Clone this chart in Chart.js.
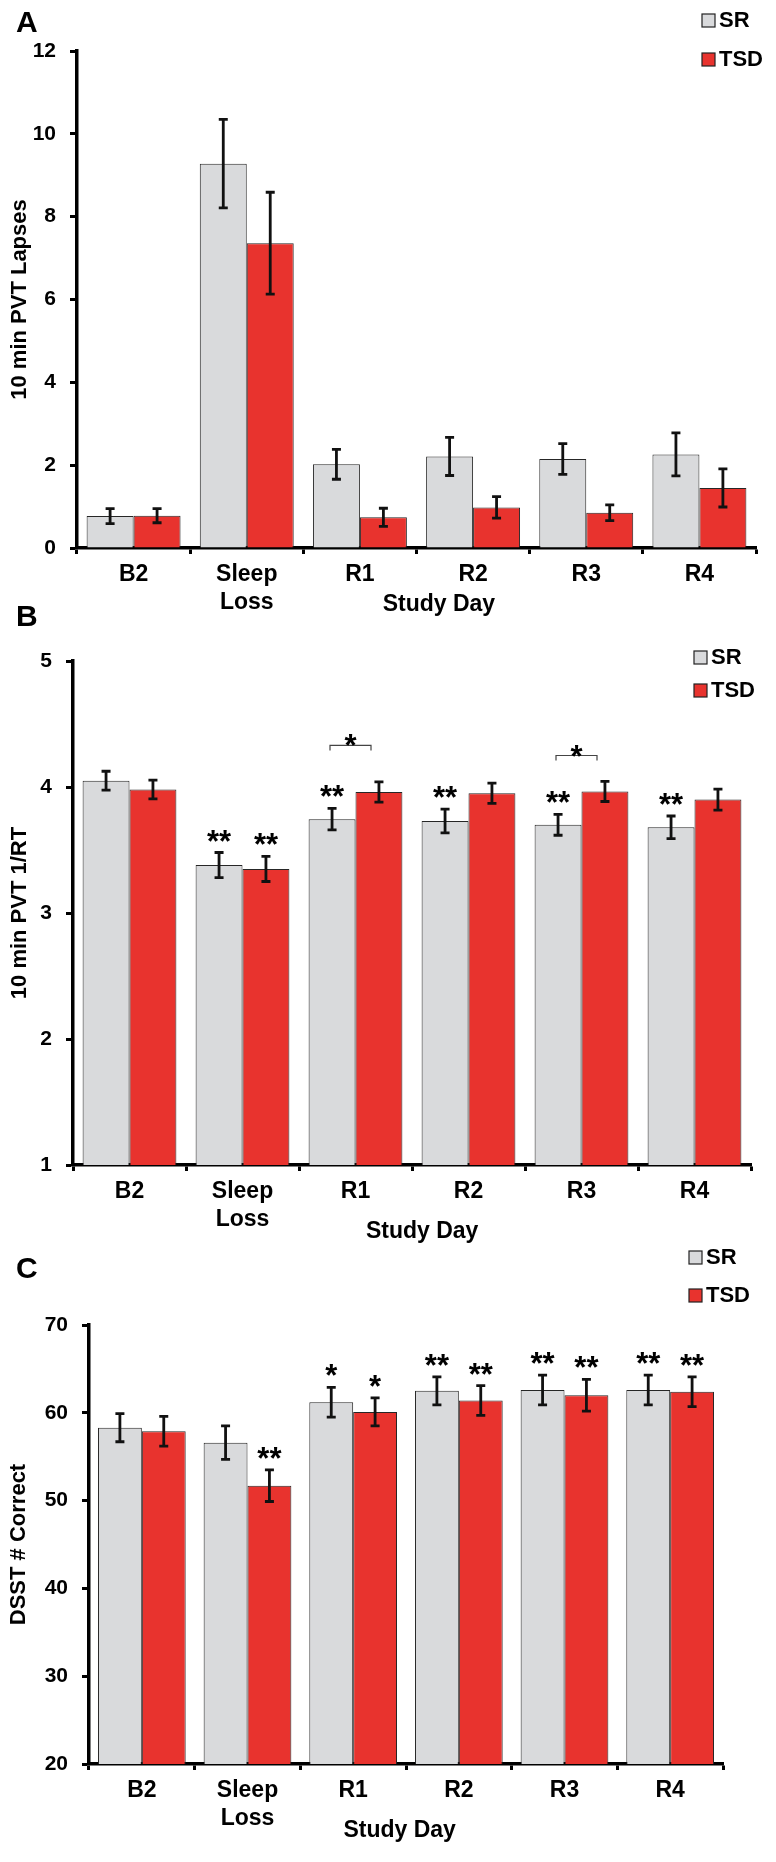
<!DOCTYPE html>
<html>
<head>
<meta charset="utf-8">
<script src="https://cdn.jsdelivr.net/npm/chart.js@4"></script>
<style>
  body { margin: 0; background: #fff; }
  .wrap { position: relative; width: 776px; height: 1862px; }
  canvas { position: absolute; left: 0; }
</style>
</head>
<body>
<div class="wrap">
  <canvas id="chartA" width="776" height="620" style="top:0px"></canvas>
  <canvas id="chartB" width="776" height="660" style="top:600px"></canvas>
  <canvas id="chartC" width="776" height="622" style="top:1240px"></canvas>
</div>
<script>
const categories = ['B2', ['Sleep', 'Loss'], 'R1', 'R2', 'R3', 'R4'];
const groups = ['SR', 'TSD'];
const colors = ['#d9dadc', '#e8332e'];

// panel A - PVT lapses
const lapsesSR = [0.77, 9.28, 2.02, 2.21, 2.15, 2.26];
const lapsesTSD = [0.78, 7.36, 0.74, 0.98, 0.85, 1.45];
const lapsesSRErr = [0.18, 1.07, 0.36, 0.46, 0.37, 0.52];
const lapsesTSDErr = [0.17, 1.23, 0.22, 0.26, 0.19, 0.46];
const lapsesTicks = [0, 2, 4, 6, 8, 10, 12];

// panel B - PVT 1/RT
const rtSR = [4.05, 3.38, 3.745, 3.73, 3.70, 3.68];
const rtTSD = [3.98, 3.35, 3.96, 3.95, 3.965, 3.90];
const rtSRErr = [0.075, 0.10, 0.086, 0.094, 0.083, 0.09];
const rtTSDErr = [0.075, 0.10, 0.08, 0.08, 0.08, 0.083];
const rtSRStars = ['', '**', '**', '**', '**', '**'];
const rtTSDStars = ['', '**', '', '', '', ''];
const rtBrackets = [{ index: 2, y: 4.33 }, { index: 4, y: 4.25 }];
const rtTicks = [1, 2, 3, 4, 5];

// panel C - DSST
const dsstSR = [58.3, 56.6, 61.2, 62.5, 62.6, 62.6];
const dsstTSD = [57.9, 51.7, 60.1, 61.4, 62.0, 62.4];
const dsstSRErr = [1.6, 1.9, 1.7, 1.6, 1.7, 1.7];
const dsstTSDErr = [1.7, 1.8, 1.6, 1.7, 1.8, 1.7];
const dsstSRStars = ['', '', '*', '**', '**', '**'];
const dsstTSDStars = ['', '**', '*', '**', '**', '**'];
const dsstTicks = [20, 30, 40, 50, 60, 70];

const FONT = '"Liberation Sans", Arial, sans-serif';
Chart.defaults.font.family = FONT;
Chart.defaults.font.weight = 'bold';
Chart.defaults.color = '#000';

// error bars, stars, brackets, legend, panel letter, x title
const extras = {
  id: 'extras',
  afterDatasetsDraw(chart, args, opts) {
    const ctx = chart.ctx;
    const ys = chart.scales.y, xs = chart.scales.x;
    const area = chart.chartArea;
    ctx.save();
    chart.data.datasets.forEach((ds, i) => {
      chart.getDatasetMeta(i).data.forEach((bar, j) => {
        const v = ds.data[j], e = ds.errors[j];
        const top = ys.getPixelForValue(v + e), bot = ys.getPixelForValue(v - e);
        ctx.strokeStyle = '#111';
        ctx.lineWidth = 2.8;
        ctx.beginPath();
        ctx.moveTo(bar.x, top); ctx.lineTo(bar.x, bot);
        ctx.moveTo(bar.x - 4.5, top); ctx.lineTo(bar.x + 4.5, top);
        ctx.moveTo(bar.x - 4.5, bot); ctx.lineTo(bar.x + 4.5, bot);
        ctx.stroke();
        const s = ds.stars ? ds.stars[j] : '';
        if (s) {
          ctx.fillStyle = '#000';
          ctx.font = 'bold 31px ' + FONT;
          ctx.textAlign = 'center';
          ctx.textBaseline = 'alphabetic';
          ctx.fillText(s, bar.x, top - 1);
        }
      });
    });
    (opts.brackets || []).forEach(b => {
      const cx = xs.getPixelForValue(b.index) - 5;
      const y = ys.getPixelForValue(b.y);
      ctx.strokeStyle = '#444';
      ctx.lineWidth = 1.2;
      ctx.beginPath();
      ctx.moveTo(cx - 20.5, y + 5); ctx.lineTo(cx - 20.5, y);
      ctx.lineTo(cx + 20.5, y); ctx.lineTo(cx + 20.5, y + 5);
      ctx.stroke();
      ctx.fillStyle = '#000';
      ctx.font = 'bold 31px ' + FONT;
      ctx.textAlign = 'center';
      ctx.textBaseline = 'alphabetic';
      ctx.fillText('*', cx, y + 11);
    });
    // legend
    const lg = opts.legend;
    chart.data.datasets.forEach((ds, i) => {
      const by = lg.y + i * lg.gap;
      ctx.fillStyle = ds.backgroundColor;
      ctx.fillRect(lg.x, by, 13, 13);
      ctx.strokeStyle = '#222';
      ctx.lineWidth = 1.2;
      ctx.strokeRect(lg.x, by, 13, 13);
      ctx.fillStyle = '#000';
      ctx.font = 'bold 22px ' + FONT;
      ctx.textAlign = 'left';
      ctx.textBaseline = 'middle';
      ctx.fillText(ds.label, lg.x + 17, by + 7);
    });
    // panel letter
    ctx.font = 'bold 30px ' + FONT;
    ctx.textAlign = 'left';
    ctx.textBaseline = 'alphabetic';
    ctx.fillText(opts.letter.text, 16, opts.letter.y);
    // x title
    ctx.font = 'bold 23px ' + FONT;
    ctx.textAlign = 'center';
    ctx.textBaseline = 'middle';
    ctx.fillText('Study Day', area.left + opts.xTitle.frac * (area.right - area.left), area.bottom + opts.xTitle.dy);
    ctx.restore();
  }
};

function makePanel(id, sr, tsd, srErr, tsdErr, srStars, tsdStars, ticks, yTitle, lay) {
  return new Chart(document.getElementById(id), {
    type: 'bar',
    data: {
      labels: categories,
      datasets: [
        { label: groups[0], data: sr, errors: srErr, stars: srStars, backgroundColor: colors[0],
          borderColor: '#262626', borderWidth: 1, categoryPercentage: 0.83, barPercentage: 1 },
        { label: groups[1], data: tsd, errors: tsdErr, stars: tsdStars, backgroundColor: colors[1],
          borderColor: '#262626', borderWidth: 1, categoryPercentage: 0.83, barPercentage: 1 }
      ]
    },
    options: {
      responsive: false,
      animation: false,
      devicePixelRatio: 1,
      layout: { padding: { top: lay.top, right: lay.right, left: 0, bottom: 0 } },
      plugins: {
        legend: { display: false },
        tooltip: { enabled: false },
        extras: { legend: lay.legend, letter: lay.letter, xTitle: lay.xTitle, brackets: lay.brackets }
      },
      scales: {
        x: {
          grid: { display: true, drawOnChartArea: false, drawTicks: true, tickLength: 6, tickWidth: 3, tickColor: '#000' },
          border: { display: true, color: '#000', width: 3.5 },
          ticks: { font: { size: 23, weight: 'bold' }, color: '#000', padding: 7, maxRotation: 0 },
          afterFit: s => { s.height = lay.xHeight; }
        },
        y: {
          min: ticks[0],
          max: ticks[ticks.length - 1],
          afterBuildTicks: s => { s.ticks = ticks.map(v => ({ value: v })); },
          grid: { display: true, drawOnChartArea: false, drawTicks: true, tickLength: 7, tickWidth: 3, tickColor: '#000' },
          border: { display: true, color: '#000', width: 3.5 },
          ticks: { font: { size: 21, weight: 'bold' }, color: '#000', padding: 14 },
          title: { display: true, text: yTitle, font: { size: 22, weight: 'bold' }, color: '#000', padding: { top: lay.titlePad, bottom: 0 } },
          afterFit: s => { s.width = lay.yWidth; }
        }
      }
    },
    plugins: [extras]
  });
}

makePanel('chartA', lapsesSR, lapsesTSD, lapsesSRErr, lapsesTSDErr, null, null, lapsesTicks, '10 min PVT Lapses', {
  top: 51, right: 20, yWidth: 77, xHeight: 72, titlePad: 7,
  legend: { x: 702, y: 14, gap: 39 }, letter: { text: 'A', y: 32 },
  xTitle: { frac: 0.533, dy: 57 }, brackets: []
});

makePanel('chartB', rtSR, rtTSD, rtSRErr, rtTSDErr, rtSRStars, rtTSDStars, rtTicks, '10 min PVT 1/RT', {
  top: 61, right: 25, yWidth: 73, xHeight: 95, titlePad: 7,
  legend: { x: 694, y: 51, gap: 33 }, letter: { text: 'B', y: 26 },
  xTitle: { frac: 0.515, dy: 67 }, brackets: rtBrackets
});

makePanel('chartC', dsstSR, dsstTSD, dsstSRErr, dsstTSDErr, dsstSRStars, dsstTSDStars, dsstTicks, 'DSST # Correct', {
  top: 85, right: 53, yWidth: 89, xHeight: 98, titlePad: 6,
  legend: { x: 689, y: 11, gap: 38 }, letter: { text: 'C', y: 38 },
  xTitle: { frac: 0.49, dy: 67 }, brackets: []
});
</script>
</body>
</html>
